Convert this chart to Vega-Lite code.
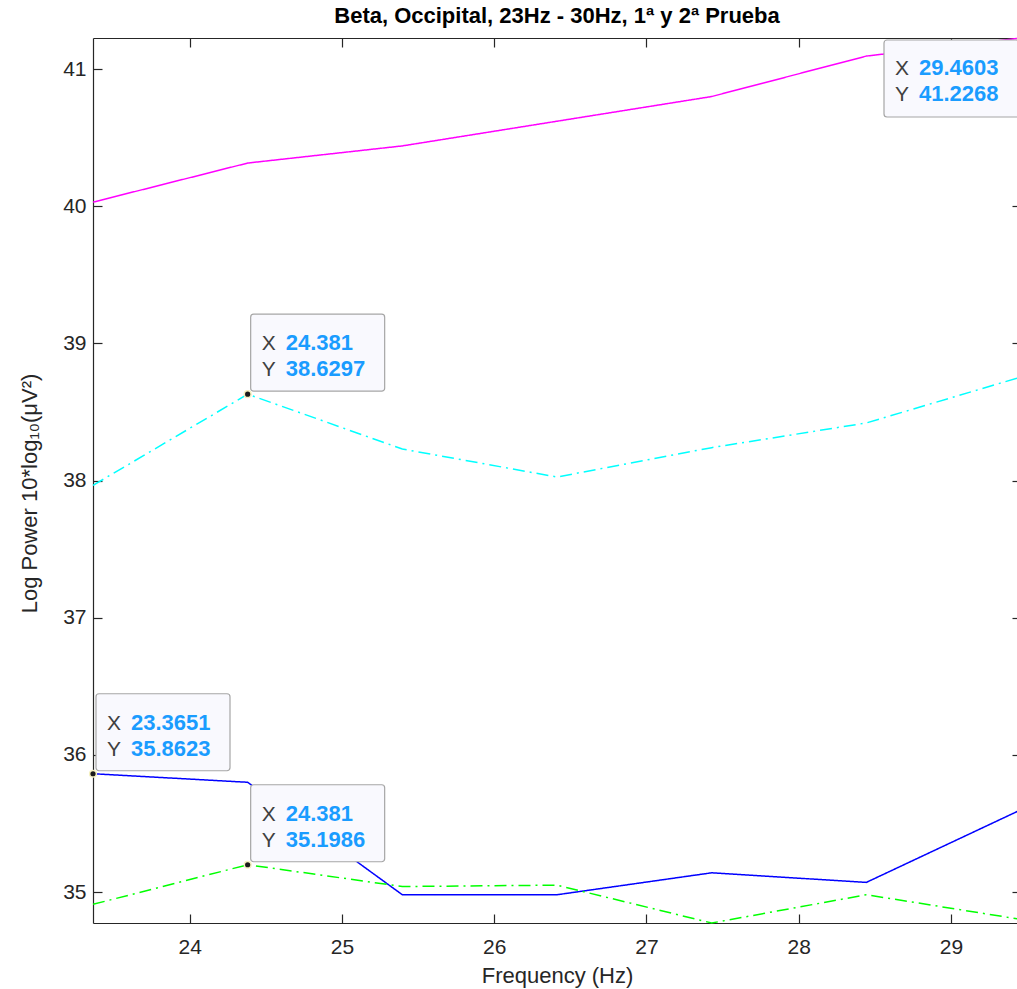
{
  "$schema": "https://vega.github.io/schema/vega-lite/v6.json",
  "width": 928,
  "height": 885,
  "autosize": {"type": "none"},
  "padding": {"left": 93, "top": 38, "right": 0, "bottom": 66},
  "background": "white",
  "config": {
    "view": {"stroke": null},
    "font": "Liberation Sans",
    "axis": {
      "grid": false,
      "domainColor": "#262626",
      "domainWidth": 1.2,
      "tickColor": "#262626",
      "tickWidth": 1.2,
      "tickSize": -9,
      "labelColor": "#262626",
      "labelFont": "Liberation Sans",
      "labelFontSize": 21,
      "titleColor": "#262626",
      "titleFont": "Liberation Sans",
      "titleFontSize": 22,
      "titleFontWeight": "normal"
    }
  },
  "title": {
    "text": "Beta, Occipital, 23Hz - 30Hz, 1ª y 2ª Prueba",
    "fontSize": 22,
    "fontWeight": "bold",
    "font": "Liberation Sans",
    "color": "#000000",
    "anchor": "middle",
    "offset": 4
  },
  "resolve": {"axis": {"x": "independent", "y": "independent"}},
  "datasets": {
    "lines": [
      {"freq": 23.3651, "power": 40.03, "series": "A"},
      {"freq": 24.381, "power": 40.315, "series": "A"},
      {"freq": 25.3968, "power": 40.44, "series": "A"},
      {"freq": 26.4127, "power": 40.62, "series": "A"},
      {"freq": 27.4286, "power": 40.8, "series": "A"},
      {"freq": 28.4444, "power": 41.095, "series": "A"},
      {"freq": 29.4603, "power": 41.2268, "series": "A"},
      {"freq": 23.3651, "power": 37.965, "series": "B"},
      {"freq": 24.381, "power": 38.6297, "series": "B"},
      {"freq": 25.3968, "power": 38.23, "series": "B"},
      {"freq": 26.4127, "power": 38.026, "series": "B"},
      {"freq": 27.4286, "power": 38.24, "series": "B"},
      {"freq": 28.4444, "power": 38.42, "series": "B"},
      {"freq": 29.4603, "power": 38.755, "series": "B"},
      {"freq": 23.3651, "power": 35.8623, "series": "C"},
      {"freq": 24.381, "power": 35.8, "series": "C"},
      {"freq": 25.3968, "power": 34.98, "series": "C"},
      {"freq": 26.4127, "power": 34.98, "series": "C"},
      {"freq": 27.4286, "power": 35.14, "series": "C"},
      {"freq": 28.4444, "power": 35.07, "series": "C"},
      {"freq": 29.4603, "power": 35.6, "series": "C"},
      {"freq": 23.3651, "power": 34.91, "series": "D"},
      {"freq": 24.381, "power": 35.1986, "series": "D"},
      {"freq": 25.3968, "power": 35.04, "series": "D"},
      {"freq": 26.4127, "power": 35.05, "series": "D"},
      {"freq": 27.4286, "power": 34.774, "series": "D"},
      {"freq": 28.4444, "power": 34.98, "series": "D"},
      {"freq": 29.4603, "power": 34.8, "series": "D"}
    ],
    "tips": [
      {"freq": 23.3651, "power": 35.8623, "xs": "23.3651", "ys": "35.8623"},
      {"freq": 24.381, "power": 38.6297, "xs": "24.381", "ys": "38.6297"},
      {"freq": 24.381, "power": 35.1986, "xs": "24.381", "ys": "35.1986"},
      {"freq": 29.4603, "power": 41.2268, "xs": "29.4603", "ys": "41.2268"}
    ]
  },
  "encoding": {
    "x": {
      "field": "freq",
      "type": "quantitative",
      "scale": {"domain": [23.3651, 29.4603], "nice": false, "zero": false},
      "axis": null
    },
    "y": {
      "field": "power",
      "type": "quantitative",
      "scale": {"domain": [34.774, 41.2268], "nice": false, "zero": false},
      "axis": null
    }
  },
  "layer": [
    {
      "data": {"name": "lines"},
      "mark": {"type": "line", "strokeWidth": 1.5},
      "encoding": {
        "x": {
          "field": "freq",
          "type": "quantitative",
          "axis": {
            "orient": "bottom",
            "title": "Frequency (Hz)",
            "values": [24, 25, 26, 27, 28, 29],
            "labelPadding": 22,
            "titleY": 52,
            "titleBaseline": "middle"
          }
        },
        "y": {
          "field": "power",
          "type": "quantitative",
          "axis": {
            "orient": "left",
            "title": "Log Power 10*log₁₀(μV²)",
            "values": [35, 36, 37, 38, 39, 40, 41],
            "labelPadding": 16,
            "titleX": -64,
            "titleY": 455,
            "titleBaseline": "middle",
            "titleAngle": -90,
            "titleAlign": "center"
          }
        },
        "color": {
          "field": "series",
          "type": "nominal",
          "scale": {"domain": ["A", "B", "C", "D"], "range": ["#ff00ff", "#00ffff", "#0000ff", "#00ff00"]},
          "legend": null
        },
        "strokeDash": {
          "field": "series",
          "type": "nominal",
          "scale": {"domain": ["A", "B", "C", "D"], "range": [[1, 0], [12, 5, 2, 5], [1, 0], [12, 5, 2, 5]]},
          "legend": null
        }
      }
    },
    {
      "data": {"name": "lines"},
      "transform": [{"filter": "datum.freq > 100"}],
      "mark": {"type": "point", "opacity": 0},
      "encoding": {
        "x": {"field": "freq", "type": "quantitative", "axis": {"orient": "top", "labels": false, "title": null, "values": [24, 25, 26, 27, 28, 29]}},
        "y": {"field": "power", "type": "quantitative", "axis": {"orient": "right", "labels": false, "title": null, "values": [35, 36, 37, 38, 39, 40, 41]}}
      }
    },
    {
      "data": {"name": "tips"},
      "transform": [{"filter": "datum.power < 41"}],
      "mark": {
        "type": "point",
        "filled": true,
        "size": 4,
        "shape": "M 6 -80 H 134 A 3 3 0 0 1 137 -77 V -6 A 3 3 0 0 1 134 -3 H 6 A 3 3 0 0 1 3 -6 V -77 A 3 3 0 0 1 6 -80 Z",
        "fill": "#f9f9fe",
        "stroke": "#a6a6a6",
        "strokeWidth": 1.2,
        "opacity": 1
      }
    },
    {
      "data": {"name": "tips"},
      "transform": [{"filter": "datum.power > 41"}],
      "mark": {
        "type": "point",
        "filled": true,
        "size": 4,
        "shape": "M -134 2 H -5 A 3 3 0 0 1 -2 5 V 76 A 3 3 0 0 1 -5 79 H -134 A 3 3 0 0 1 -137 76 V 5 A 3 3 0 0 1 -134 2 Z",
        "fill": "#f9f9fe",
        "stroke": "#a6a6a6",
        "strokeWidth": 1.2,
        "opacity": 1
      }
    },
    {
      "data": {"name": "tips"},
      "transform": [{"filter": "datum.power < 41"}],
      "mark": {"type": "text", "text": ["X", "Y"], "lineHeight": 26, "align": "left", "baseline": "alphabetic", "dx": 14, "dy": -44, "fontSize": 21, "font": "Liberation Sans", "color": "#404040"}
    },
    {
      "data": {"name": "tips"},
      "transform": [{"filter": "datum.power > 41"}],
      "mark": {"type": "text", "text": ["X", "Y"], "lineHeight": 26, "align": "left", "baseline": "alphabetic", "dx": -126, "dy": 37, "fontSize": 21, "font": "Liberation Sans", "color": "#404040"}
    },
    {
      "data": {"name": "tips"},
      "transform": [{"filter": "datum.power < 41"}],
      "mark": {"type": "text", "align": "left", "baseline": "alphabetic", "dx": 38, "dy": -44, "fontSize": 22, "fontWeight": "bold", "font": "Liberation Sans", "color": "#1a9cff"},
      "encoding": {"text": {"field": "xs", "type": "nominal"}}
    },
    {
      "data": {"name": "tips"},
      "transform": [{"filter": "datum.power < 41"}],
      "mark": {"type": "text", "align": "left", "baseline": "alphabetic", "dx": 38, "dy": -18, "fontSize": 22, "fontWeight": "bold", "font": "Liberation Sans", "color": "#1a9cff"},
      "encoding": {"text": {"field": "ys", "type": "nominal"}}
    },
    {
      "data": {"name": "tips"},
      "transform": [{"filter": "datum.power > 41"}],
      "mark": {"type": "text", "align": "left", "baseline": "alphabetic", "dx": -102, "dy": 37, "fontSize": 22, "fontWeight": "bold", "font": "Liberation Sans", "color": "#1a9cff"},
      "encoding": {"text": {"field": "xs", "type": "nominal"}}
    },
    {
      "data": {"name": "tips"},
      "transform": [{"filter": "datum.power > 41"}],
      "mark": {"type": "text", "align": "left", "baseline": "alphabetic", "dx": -102, "dy": 63, "fontSize": 22, "fontWeight": "bold", "font": "Liberation Sans", "color": "#1a9cff"},
      "encoding": {"text": {"field": "ys", "type": "nominal"}}
    },
    {
      "data": {"name": "tips"},
      "mark": {"type": "point", "filled": true, "size": 45, "shape": "circle", "fill": "#1a1a1a", "stroke": "#f5f0c0", "strokeWidth": 1.5, "opacity": 1}
    }
  ]
}
